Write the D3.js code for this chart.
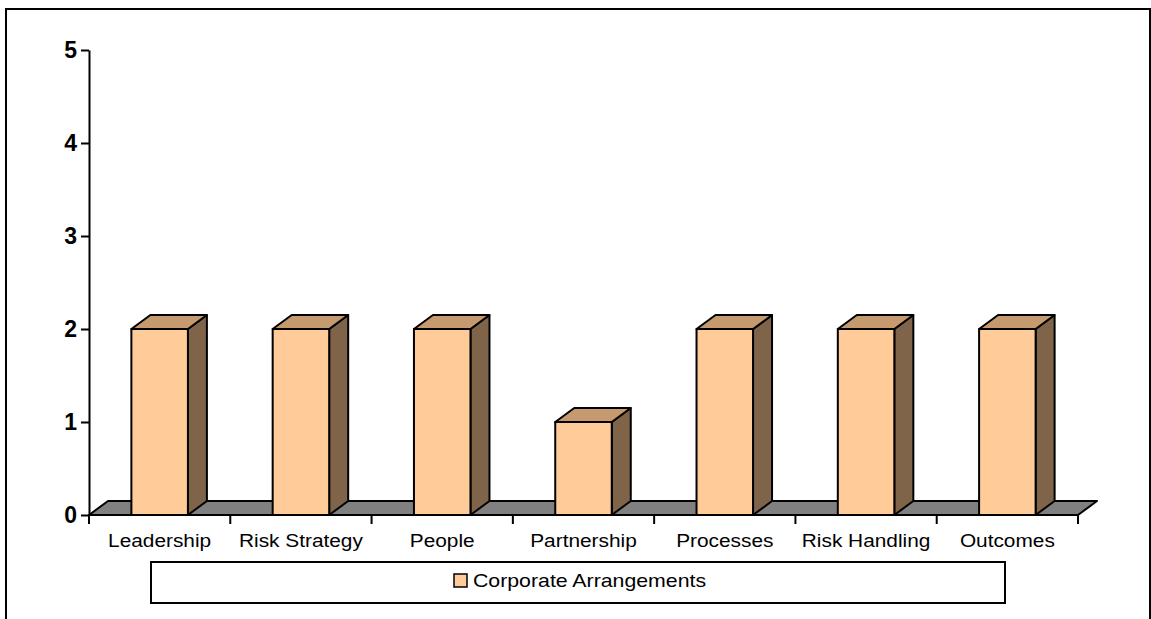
<!DOCTYPE html>
<html>
<head>
<meta charset="utf-8">
<script src="https://d3js.org/d3.v7.min.js"></script>
<style>
  body { margin: 0; background: #fff; }
  svg { display: block; font-family: Arial, "Liberation Sans", sans-serif; }
</style>
</head>
<body>
<svg id="chart" width="1151" height="619"></svg>
<script>
// data
const categories = ['Leadership', 'Risk Strategy', 'People', 'Partnership', 'Processes', 'Risk Handling', 'Outcomes']
const values = [2, 2, 2, 1, 2, 2, 2]
const seriesName = 'Corporate Arrangements'
const yTicks = [0, 1, 2, 3, 4, 5]

const width = 1151
const height = 619
const depthX = 19
const depthY = -14
const frontColor = '#FFCC99'
const topColor = '#C49A6E'
const sideColor = '#7F6449'
const floorColor = '#808080'

const svg = d3.select('#chart')

// outer frame (bottom runs off the page)
svg.append('rect')
  .attr('x', 6).attr('y', 9).attr('width', 1144).attr('height', 700)
  .attr('fill', 'none').attr('stroke', '#000').attr('stroke-width', 2)

const x = d3.scaleBand().domain(categories).range([89, 1078])
  .paddingInner(0.6).paddingOuter(0.3)
const y = d3.scaleLinear().domain([0, 5]).range([515, 50])

const x0 = x.range()[0], x1 = x.range()[1], y0 = y(0)

// floor
svg.append('polygon')
  .attr('points', [[x0, y0], [x0 + depthX, y0 + depthY], [x1 + depthX, y0 + depthY], [x1, y0]].join(' '))
  .attr('fill', floorColor).attr('stroke', '#000').attr('stroke-width', 2).attr('stroke-linejoin', 'round')

// bars
const bars = svg.append('g').selectAll('g').data(values).enter().append('g')
bars.each(function (d, i) {
  const g = d3.select(this)
  const bx = x(categories[i]), bw = x.bandwidth(), top = y(d)
  g.append('polygon') // side
    .attr('points', [[bx + bw, top], [bx + bw + depthX, top + depthY], [bx + bw + depthX, y0 + depthY], [bx + bw, y0]].join(' '))
    .attr('fill', sideColor)
  g.append('polygon') // top
    .attr('points', [[bx, top], [bx + depthX, top + depthY], [bx + bw + depthX, top + depthY], [bx + bw, top]].join(' '))
    .attr('fill', topColor)
  g.append('rect') // front
    .attr('x', bx).attr('y', top).attr('width', bw).attr('height', y0 - top)
    .attr('fill', frontColor)
  g.selectAll('polygon, rect').attr('stroke', '#000').attr('stroke-width', 2).attr('stroke-linejoin', 'round')
})

// y axis
const yAxis = svg.append('g').attr('transform', 'translate(' + x0 + ',0)')
  .call(d3.axisLeft(y).tickValues(yTicks).tickFormat(d3.format('d')).tickSize(8).tickPadding(4).tickSizeOuter(0))
yAxis.select('.domain').attr('stroke', '#000').attr('stroke-width', 2)
yAxis.selectAll('.tick line').attr('stroke', '#000').attr('stroke-width', 2)
yAxis.selectAll('.tick text')
  .style('font-family', 'Arial, "Liberation Sans", sans-serif')
  .style('font-size', '23px').style('font-weight', 'bold').attr('fill', '#000')

// x axis line and ticks at category boundaries
svg.append('line').attr('x1', x0).attr('x2', x1).attr('y1', y0).attr('y2', y0)
  .attr('stroke', '#000').attr('stroke-width', 2)
svg.append('g').selectAll('line').data(d3.range(categories.length + 1)).enter().append('line')
  .attr('x1', (d) => x0 + d * x.step()).attr('x2', (d) => x0 + d * x.step())
  .attr('y1', y0).attr('y2', y0 + 9)
  .attr('stroke', '#000').attr('stroke-width', 2)

const labels = svg.append('g').selectAll('text').data(categories).enter().append('text')
  .attr('x', (d) => x(d) + x.bandwidth() / 2)
  .attr('y', 547)
  .attr('text-anchor', 'middle')
  .attr('font-size', 17.5)
  .attr('fill', '#000')
  .text((d) => d)
labels.each(function () {
  const w = this.getComputedTextLength()
  d3.select(this).attr('textLength', w * 1.19).attr('lengthAdjust', 'spacingAndGlyphs')
})

// legend
const legend = svg.append('g')
legend.append('rect')
  .attr('x', 151).attr('y', 562).attr('width', 854).attr('height', 41)
  .attr('fill', '#fff').attr('stroke', '#000').attr('stroke-width', 2)
legend.append('rect')
  .attr('x', 454).attr('y', 574).attr('width', 13).attr('height', 13)
  .attr('fill', frontColor).attr('stroke', '#000').attr('stroke-width', 1.5)
const lt = legend.append('text')
  .attr('x', 473).attr('y', 587)
  .attr('font-size', 19).attr('fill', '#000')
  .text(seriesName)
lt.attr('textLength', lt.node().getComputedTextLength() * 1.12).attr('lengthAdjust', 'spacingAndGlyphs')
</script>
</body>
</html>
